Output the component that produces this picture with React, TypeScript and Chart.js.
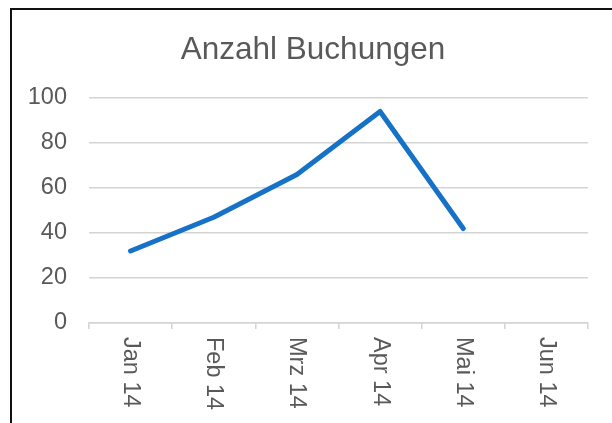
import React, { useEffect, useRef } from "react";
import { Chart, registerables } from "chart.js";

Chart.register(...registerables);

const chartTitle = "Anzahl Buchungen";
const categories = ["Jan 14", "Feb 14", "Mrz 14", "Apr 14", "Mai 14", "Jun 14"];
const bookings: (number | null)[] = [32, 47, 66, 94, 42, null];
const yTicks = { min: 0, max: 100, step: 20 };

const FONT = '"Liberation Sans", Arial, sans-serif';
const TEXT = "#595959";
const GRID = "#d4d4d4";

export default function App() {
  const ref = useRef<HTMLCanvasElement | null>(null);

  useEffect(() => {
    const canvas = ref.current;
    if (!canvas) return;

    const labelPlugin = {
      id: "customText",
      afterDraw(chart: any) {
        const ctx = chart.ctx;
        const xs = chart.scales.x;
        ctx.save();
        // title
        ctx.fillStyle = TEXT;
        ctx.font = `31.5px ${FONT}`;
        ctx.textAlign = "center";
        ctx.textBaseline = "alphabetic";
        ctx.fillText(chartTitle, 313, 59);
        // rotated category labels (reading top to bottom)
        ctx.font = `23.5px ${FONT}`;
        ctx.textAlign = "left";
        ctx.textBaseline = "middle";
        categories.forEach((lab, i) => {
          const x = xs.getPixelForValue(i);
          ctx.save();
          ctx.translate(x, 337);
          ctx.rotate(Math.PI / 2);
          ctx.fillText(lab, 0, 0);
          ctx.restore();
        });
        ctx.restore();
      },
    };

    const chart = new Chart(canvas, {
      type: "line",
      data: {
        labels: categories,
        datasets: [
          {
            label: chartTitle,
            data: bookings,
            borderColor: "#1672c6",
            borderWidth: 5,
            borderCapStyle: "round",
            borderJoinStyle: "round",
            pointRadius: 0,
            tension: 0,
            fill: false,
          },
        ],
      },
      options: {
        responsive: false,
        animation: false,
        layout: { padding: { left: 0, top: 98, right: 24, bottom: 0 } },
        plugins: {
          legend: { display: false },
          title: { display: false },
          tooltip: { enabled: false },
        },
        scales: {
          x: {
            type: "category",
            offset: true,
            border: { display: true, color: GRID, width: 1.5 },
            grid: {
              offset: true,
              drawOnChartArea: false,
              drawTicks: true,
              tickLength: 6,
              color: GRID,
              lineWidth: 1.5,
            },
            ticks: { display: false },
            afterFit(scale: any) {
              scale.height = 100;
            },
          },
          y: {
            min: yTicks.min,
            max: yTicks.max,
            border: { display: false },
            grid: { color: GRID, lineWidth: 1.5, drawTicks: false },
            ticks: {
              stepSize: yTicks.step,
              color: TEXT,
              padding: 22,
              font: { family: FONT, size: 23.5 },
            },
            afterFit(scale: any) {
              scale.width = 89;
            },
          },
        },
      },
      plugins: [labelPlugin],
    } as any);

    return () => chart.destroy();
  }, []);

  return (
    <div style={{ position: "fixed", left: 0, top: 0, width: 612, height: 423, background: "#fff", overflow: "hidden" }}>
      <canvas ref={ref} width={612} height={423} style={{ position: "absolute", left: 0, top: 0, width: 612, height: 423 }} />
      <div
        style={{
          position: "absolute",
          left: 10,
          top: 8,
          width: 640,
          height: 440,
          border: "2px solid #111",
          pointerEvents: "none",
        }}
      />
    </div>
  );
}
